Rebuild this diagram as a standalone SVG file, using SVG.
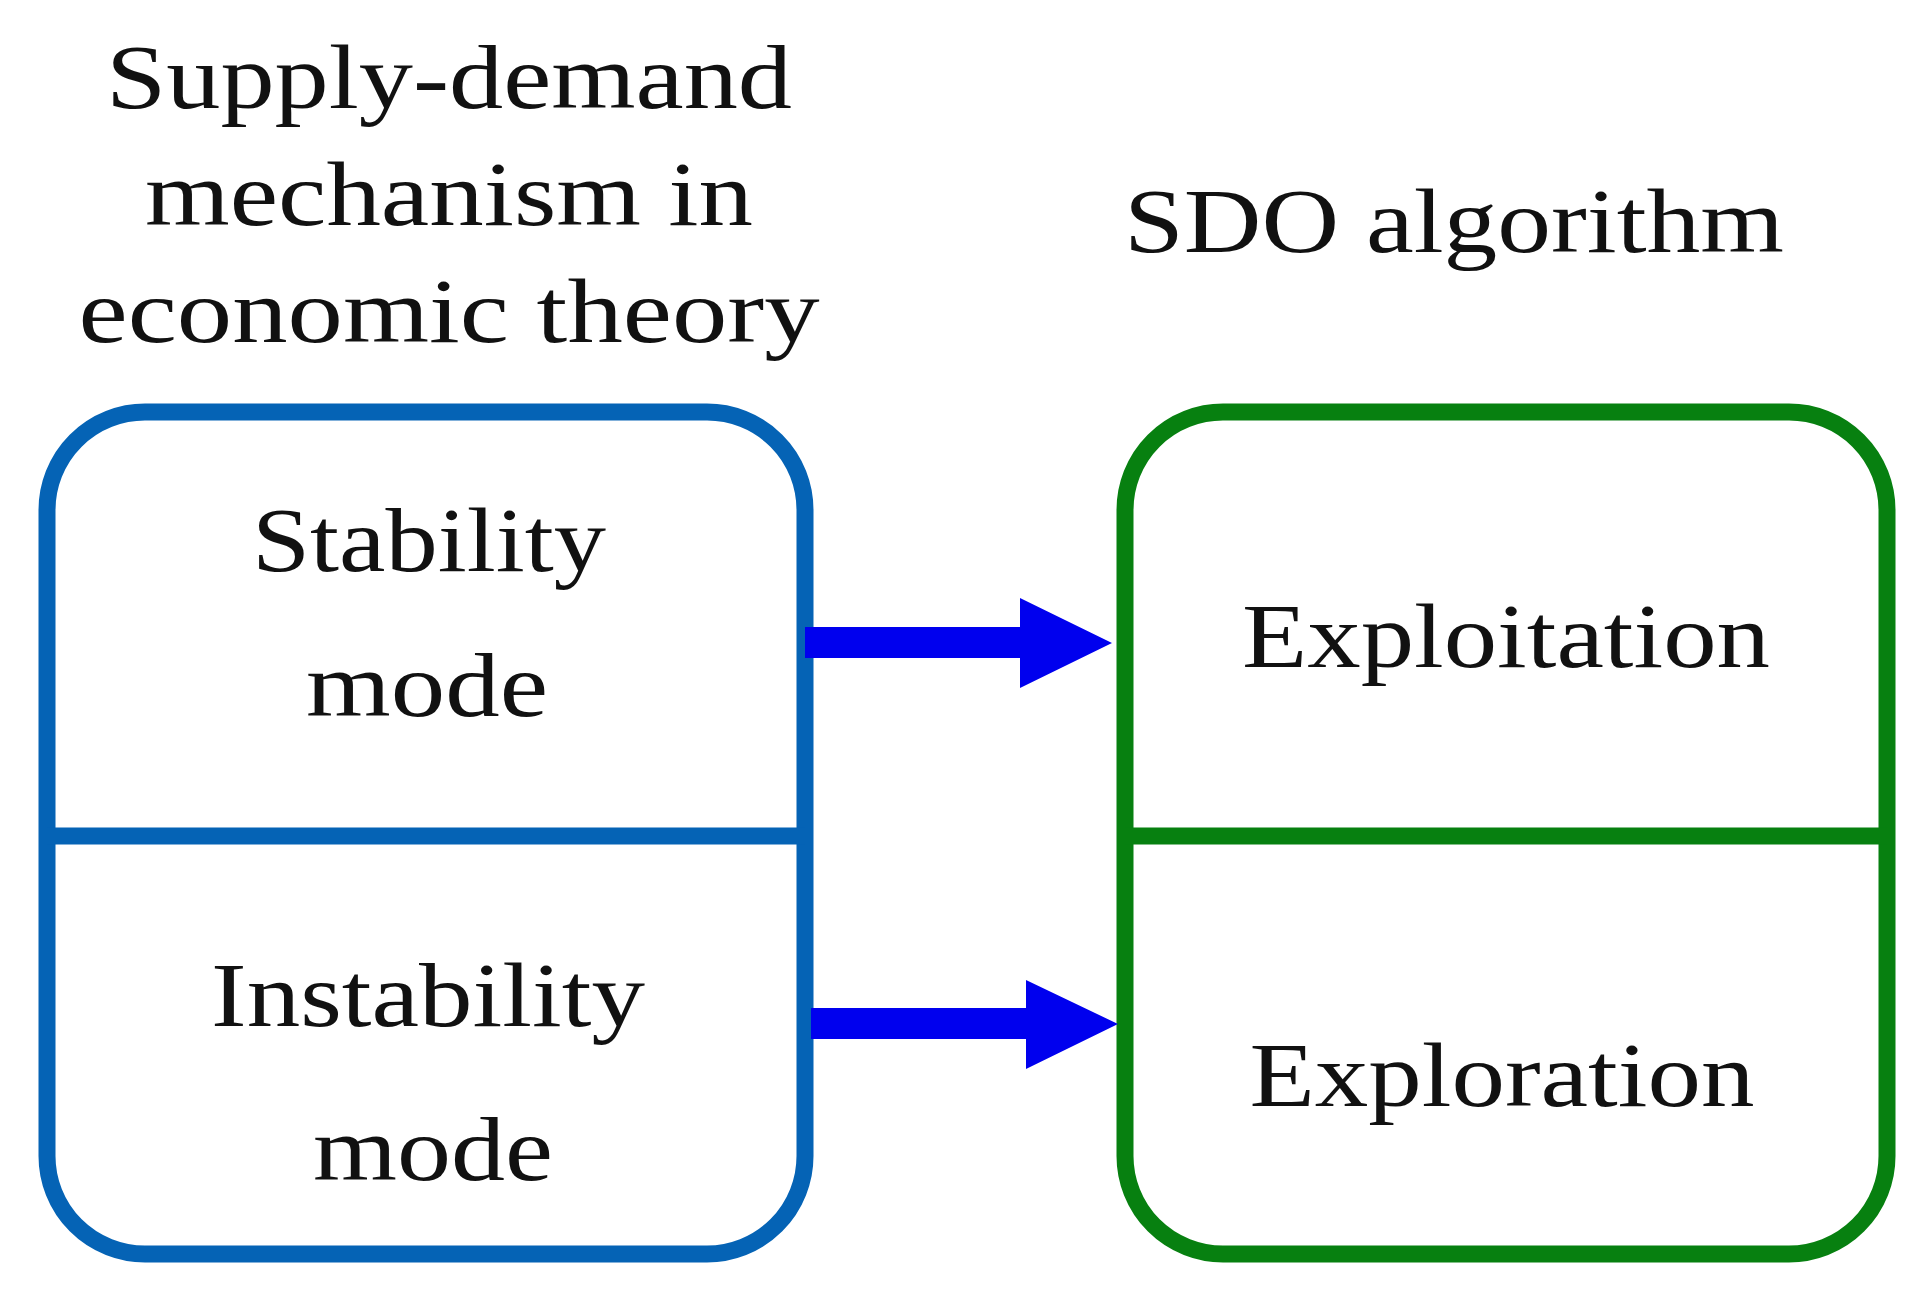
<svg xmlns="http://www.w3.org/2000/svg" width="1917" height="1297" viewBox="0 0 1917 1297">
<style>
text{font-family:"Liberation Serif","Times New Roman",serif;font-size:92px;fill:#111;text-anchor:middle}
.b{fill:#fff;stroke:#0563b5;stroke-width:17}
.g{fill:#fff;stroke:#078010;stroke-width:17}
.arr{fill:#0000ee}
</style>
<rect width="1917" height="1297" fill="#fff"/>
<g id="titles">
<text x="449" y="108" textLength="686" lengthAdjust="spacingAndGlyphs">Supply-demand</text>
<text x="449" y="225" textLength="608" lengthAdjust="spacingAndGlyphs">mechanism in</text>
<text x="449" y="342" textLength="741" lengthAdjust="spacingAndGlyphs">economic theory</text>
<text x="1454" y="252" textLength="660" lengthAdjust="spacingAndGlyphs">SDO algorithm</text>
</g>
<g id="left">
<rect class="b" x="47" y="412" width="758" height="842" rx="98"/>
<line class="b" x1="47" y1="836" x2="805" y2="836"/>
<text x="429" y="571" textLength="354" lengthAdjust="spacingAndGlyphs">Stability</text>
<text x="427" y="716" textLength="242" lengthAdjust="spacingAndGlyphs">mode</text>
<text x="428" y="1026" textLength="434" lengthAdjust="spacingAndGlyphs">Instability</text>
<text x="433" y="1180" textLength="240" lengthAdjust="spacingAndGlyphs">mode</text>
</g>
<g id="right">
<rect class="g" x="1125" y="412" width="762" height="842" rx="98"/>
<line class="g" x1="1125" y1="836" x2="1887" y2="836"/>
<text x="1506" y="667" textLength="528" lengthAdjust="spacingAndGlyphs">Exploitation</text>
<text x="1502" y="1106" textLength="505" lengthAdjust="spacingAndGlyphs">Exploration</text>
</g>
<g id="connectors">
<polygon class="arr" points="805,627 1020,627 1020,598 1112,643 1020,688 1020,658 805,658"/>
<polygon class="arr" points="811,1008 1026,1008 1026,980 1118,1024 1026,1069 1026,1039 811,1039"/>
</g>
</svg>
